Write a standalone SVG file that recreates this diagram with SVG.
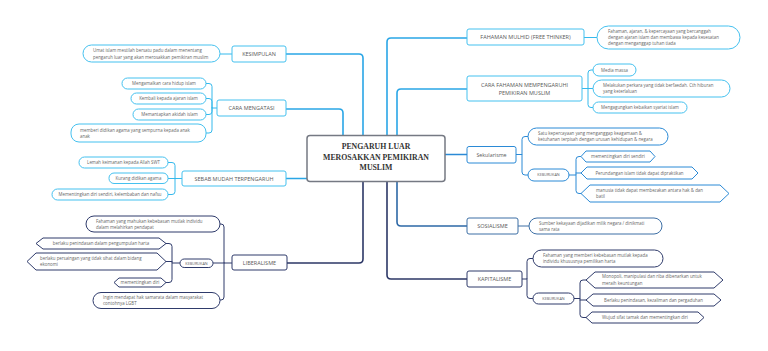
<svg xmlns="http://www.w3.org/2000/svg" width="768" height="351" viewBox="0 0 768 351">
<style>
text{font-family:"Open Sans","DejaVu Sans",sans-serif;fill:#5a5a5a}
.lbl{font-size:5.5px;text-anchor:middle}
.lf{font-size:4.4px;fill:#666}
.m{text-anchor:middle}
.kb{font-size:3.8px;text-anchor:middle}
.ctr{font-family:"Liberation Serif","DejaVu Serif",serif;font-weight:bold;font-size:7.8px;fill:#333;text-anchor:middle}
.lb{fill:#fff;stroke:#45c1ef;stroke-width:1}
.bl{fill:#fff;stroke:#2b8ad6;stroke-width:1}
.so{fill:#fff;stroke:#3d6fa5;stroke-width:1}
.nv{fill:#fff;stroke:#2f3b6b;stroke-width:1}
.cl{fill:none;stroke-linecap:round;stroke-linejoin:round}
.clb{stroke:#35b9ec;stroke-width:1}
.cbl{stroke:#2b8ad6;stroke-width:1}
.cnv{stroke:#2f3b6b;stroke-width:1}
.tlb{stroke:#2aa6e6;stroke-width:1.6}
.tbl{stroke:#2b8ad6;stroke-width:1.6}
.tso{stroke:#2d68a6;stroke-width:1.6}
.tnv{stroke:#2c3766;stroke-width:1.6}
</style>
<rect width="768" height="351" fill="#fff"/>
<g id="connectors" class="cl">
<path class="tlb" d="M363,136 V58 Q363,54 359,54 H286"/>
<path class="tlb" d="M343,136 V113 Q343,109 339,109 H286"/>
<path class="tlb" d="M307,178.5 H286"/>
<path class="tlb" d="M387,136 V42 Q387,38 391,38 H467"/>
<path class="tlb" d="M397,136 V93 Q397,89 401,89 H467"/>
<path class="tbl" d="M445,154.5 H467"/>
<path class="tnv" d="M363,181 V259 Q363,263 359,263 H287"/>
<path class="tso" d="M397,181 V222 Q397,226 401,226 H467"/>
<path class="tnv" d="M387,181 V275 Q387,279 391,279 H467"/>
<path class="clb" d="M232,54 H220"/>
<path class="clb" d="M217,108 H212 V86.5 Q212,83.5 209,83.5 H206 M212,108 V101.5 Q212,98.5 209,98.5 H206 M212,108 V111.5 Q212,114.5 209,114.5 H206 M212,108 V130 Q212,133 209,133 H206"/>
<path class="clb" d="M182,178.5 H175 V165.5 Q175,162.5 172,162.5 H168 M175,178.5 H168 M175,178.5 V191.5 Q175,194.5 172,194.5 H168"/>
<path class="cnv" d="M232,263 H224 V227 Q224,224 221,224 H220 M224,263 H213 M224,263 V297 Q224,300 221,300 H220"/>
<path class="cnv" d="M180,263 H172 V246.5 Q172,243.5 169,243.5 H166 M172,261.5 H166 M172,263 V279.5 Q172,282.5 169,282.5 H166"/>
<path class="clb" d="M584,37.5 H597"/>
<path class="clb" d="M582,88.5 H588 V73 Q588,70 591,70 H593 M588,88.5 H593 M588,88.5 V104.5 Q588,107.5 591,107.5 H593"/>
<path class="cbl" d="M516,154.5 H522 V139.5 Q522,136.5 525,136.5 H528 M522,154.5 V172 Q522,175 525,175 H528"/>
<path class="cbl" d="M569,175 H576 V159.5 Q576,156.5 579,156.5 H581 M576,173 H581 M576,175 V190.5 Q576,193.5 579,193.5 H581"/>
<path class="cbl" d="M518,226 H529" style="stroke:#3d6fa5"/>
<path class="cnv" d="M522,279 H527 V261.5 Q527,258.5 530,258.5 H533 M527,279 V295.5 Q527,298.5 530,298.5 H533"/>
<path class="cnv" d="M574,298.5 H580 V283 Q580,280 583,280 H586 M580,300 H586 M580,298.5 V314.5 Q580,317.5 583,317.5 H586"/>
</g>
<g id="center">
<rect x="307" y="135.5" width="138" height="46" rx="3" fill="#fff" stroke="#757983" stroke-width="1.5"/>
<text class="ctr" x="376" y="149">PENGARUH LUAR</text>
<text class="ctr" x="376" y="159.5">MEROSAKKAN PEMIKIRAN</text>
<text class="ctr" x="376" y="170">MUSLIM</text>
</g>
<g id="kesimpulan">
<rect class="lb" x="232" y="46" width="54" height="16" rx="2"/>
<text class="lbl" x="259" y="56">KESIMPULAN</text>
</g>
<g id="kesimpulan-1">
<rect class="lb" x="83" y="45" width="137" height="17" rx="8.5"/>
<text class="lf" x="93" y="52">Umat islam mestilah bersatu padu dalam menentang</text>
<text class="lf" x="93" y="58.5">pengaruh luar yang akan merosakkan pemikiran muslim</text>
</g>
<g id="cara-mengatasi">
<rect class="lb" x="217" y="100" width="69" height="16" rx="2"/>
<text class="lbl" x="251.5" y="110">CARA MENGATASI</text>
</g>
<g id="cm-1"><rect class="lb" x="122" y="78" width="84" height="11" rx="5.5"/><text class="lf m" x="164" y="85">Mengamalkan cara hidup islam</text></g>
<g id="cm-2"><rect class="lb" x="131" y="93" width="75" height="11" rx="5.5"/><text class="lf m" x="168.5" y="100">Kembali kepada ajaran islam</text></g>
<g id="cm-3"><rect class="lb" x="133" y="109" width="73" height="11" rx="5.5"/><text class="lf m" x="169.5" y="116">Memantapkan akidah islam</text></g>
<g id="cm-4"><rect class="lb" x="71" y="124" width="135" height="18" rx="8"/><text class="lf" x="80" y="131.5">memberi didikan agama yang sempurna kepada anak</text><text class="lf" x="80" y="138">anak</text></g>
<g id="sebab">
<rect class="lb" x="182" y="171" width="104" height="15" rx="2"/>
<text class="lbl" x="234" y="180.5">SEBAB MUDAH TERPENGARUH</text>
</g>
<g id="sb-1"><rect class="lb" x="79" y="157" width="89" height="11" rx="5.5"/><text class="lf m" x="123.5" y="164">Lemah keimanan kepada Allah SWT</text></g>
<g id="sb-2"><rect class="lb" x="109" y="173" width="59" height="10.5" rx="5"/><text class="lf m" x="138.5" y="179.8">Kurang didikan agama</text></g>
<g id="sb-3"><rect class="lb" x="52" y="189" width="116" height="11" rx="5.5"/><text class="lf m" x="110" y="196">Mementingkan diri sendiri, kelembaban dan nafsu</text></g>
<g id="liberalisme">
<rect class="nv" x="232" y="255" width="55" height="15" rx="2"/>
<text class="lbl" x="259.5" y="264.5">LIBERALISME</text>
</g>
<g id="lb-1"><rect class="nv" x="86" y="216" width="134" height="16" rx="8"/><text class="lf" x="96" y="222.8">Fahaman yang mahukan kebebasan mutlak individu</text><text class="lf" x="96" y="229">dalam melahirkan pendapat</text></g>
<g id="lb-k"><rect class="nv" x="180" y="259" width="33" height="8.5" rx="4.2"/><text class="kb" x="196.5" y="264.5">KEBURUKAN</text></g>
<g id="lb-k1"><polygon class="nv" points="36,243.5 43,238 159,238 166,243.5 159,249 43,249"/><text class="lf m" x="101" y="245.2">berlaku penindasan dalam pengumpulan harta</text></g>
<g id="lb-k2"><polygon class="nv" points="27,261.5 36,253 157,253 166,261.5 157,270 36,270"/><text class="lf" x="40" y="259.8">berlaku persaingan yang tidak sihat dalam bidang</text><text class="lf" x="40" y="266">ekonomi</text></g>
<g id="lb-k3"><polygon class="nv" points="114,282.5 119,278 161,278 166,282.5 161,287 119,287"/><text class="lf m" x="140" y="284.2">mementingkan diri</text></g>
<g id="lb-2"><rect class="nv" x="93" y="292.5" width="127" height="16" rx="8"/><text class="lf" x="103" y="299">Ingin mendapat hak samarata dalam masyarakat</text><text class="lf" x="103" y="305.3">contohnya LGBT</text></g>
<g id="fahaman-mulhid">
<rect class="lb" x="467" y="29" width="117" height="16" rx="2"/>
<text class="lbl" x="525.5" y="39">FAHAMAN MULHID (FREE THINKER)</text>
</g>
<g id="fm-1"><rect class="lb" x="597" y="26" width="143" height="23" rx="11.5"/><text class="lf" x="608" y="32.8">Fahaman, ajaran, &amp; kepercayaan yang bercanggah</text><text class="lf" x="608" y="38.8">dengan ajaran islam dan membawa kepada kesesatan</text><text class="lf" x="608" y="44.8">dengan menganggap tuhan tiada</text></g>
<g id="cara-fahaman">
<rect class="lb" x="467" y="76" width="115" height="25" rx="2"/>
<text class="lbl" x="524.5" y="86.5">CARA FAHAMAN MEMPENGARUHI</text>
<text class="lbl" x="524.5" y="94.5">PEMIKIRAN MUSLIM</text>
</g>
<g id="cf-1"><rect class="lb" x="593" y="64" width="43" height="12" rx="6"/><text class="lf m" x="614.5" y="71.6">Media massa</text></g>
<g id="cf-2"><rect class="lb" x="593" y="80" width="137" height="17" rx="8.5"/><text class="lf" x="603" y="87">Melakukan perkara yang tidak berfaedah. Cth hiburan</text><text class="lf" x="603" y="93.3">yang keterlaluan</text></g>
<g id="cf-3"><rect class="lb" x="593" y="102" width="94" height="11" rx="5.5"/><text class="lf m" x="640" y="109">Mengagungkan kebaikan syariat islam</text></g>
<g id="sekularisme">
<rect class="bl" x="467" y="146.5" width="49" height="16.5" rx="2"/>
<text class="lbl" x="491.5" y="156.5" style="font-size:5.3px">Sekularisme</text>
</g>
<g id="sk-1"><rect class="bl" x="528" y="128" width="140" height="17" rx="8.5"/><text class="lf" x="538" y="135">Satu kepercayaan yang menganggap keagamaan &amp;</text><text class="lf" x="538" y="141.3">ketuhanan terpisah dengan urusan kehidupan &amp; negara</text></g>
<g id="sk-k"><rect class="bl" x="528" y="169" width="41" height="12" rx="6"/><text class="kb" x="548.5" y="176.4">KEBURUKAN</text></g>
<g id="sk-k1"><polygon class="bl" points="581,156.5 586,151 650,151 655,156.5 650,162 586,162"/><text class="lf m" x="618" y="158.2">mementingkan diri sendiri</text></g>
<g id="sk-k2"><polygon class="bl" points="581,173 587,167 692,167 698,173 692,179 587,179"/><text class="lf m" x="639.5" y="174.7">Perundangan islam tidak dapat dipraktikan</text></g>
<g id="sk-k3"><polygon class="bl" points="581,193.5 590,185 720,185 729,193.5 720,202 590,202"/><text class="lf" x="596" y="191.8">manusia tidak dapat membezakan antara hak &amp; dan</text><text class="lf" x="596" y="198">batil</text></g>
<g id="sosialisme">
<rect class="so" x="467" y="218" width="51" height="16" rx="2"/>
<text class="lbl" x="492.5" y="228">SOSIALISME</text>
</g>
<g id="so-1"><rect class="so" x="529" y="218" width="133" height="16" rx="8"/><text class="lf" x="539" y="224.5">Sumber kekayaan dijadikan milik negara / dinikmati</text><text class="lf" x="539" y="230.8">sama rata</text></g>
<g id="kapitalisme">
<rect class="nv" x="467" y="271" width="55" height="16" rx="2"/>
<text class="lbl" x="494.5" y="281">KAPITALISME</text>
</g>
<g id="kp-1"><rect class="nv" x="533" y="250" width="130" height="17" rx="8.5"/><text class="lf" x="543" y="256.8">Fahaman yang memberi kebebasan mutlak kepada</text><text class="lf" x="543" y="263">individu khususnya pemilikan harta</text></g>
<g id="kp-k"><rect class="nv" x="533" y="293" width="41" height="11" rx="5.5"/><text class="kb" x="553.5" y="299.9">KEBURUKAN</text></g>
<g id="kp-k1"><polygon class="nv" points="586,280 595,272 714,272 723,280 714,288 595,288"/><text class="lf" x="602" y="278.3">Monopoli, manipulasi dan riba dibenarkan untuk</text><text class="lf" x="602" y="284.5">meraih keuntungan</text></g>
<g id="kp-k2"><polygon class="nv" points="586,300 593,294 714,294 721,300 714,306 593,306"/><text class="lf m" x="653.5" y="301.7">Berlaku penindasan, kezaliman dan pergaduhan</text></g>
<g id="kp-k3"><polygon class="nv" points="586,317.5 592,312 698,312 704,317.5 698,323 592,323"/><text class="lf m" x="645" y="319.2">Wujud sifat tamak dan mementingkan diri</text></g>
</svg>
